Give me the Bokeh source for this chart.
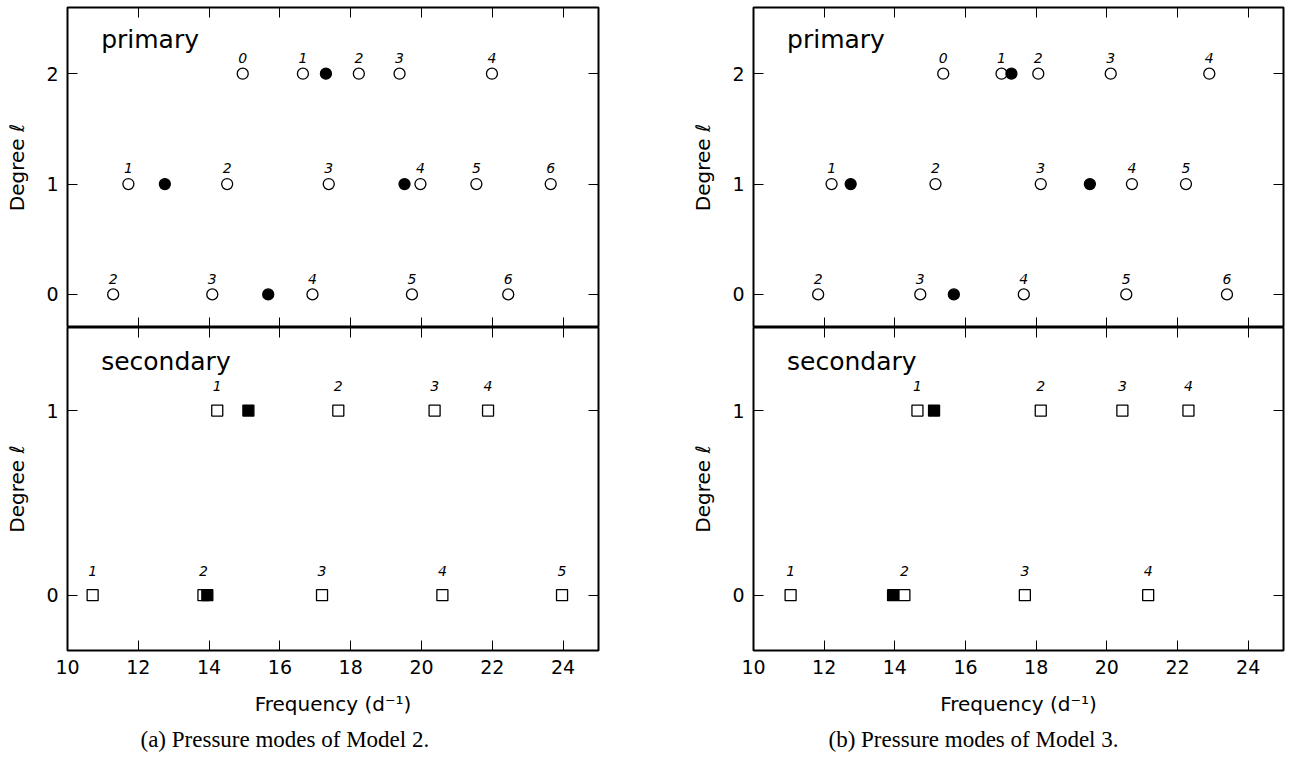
from bokeh.plotting import figure
from bokeh.models import (LinearAxis, FixedTicker, Range1d, Label, Title,
                          CustomLabelingPolicy)
from bokeh.layouts import row, column
from bokeh.embed import file_html
from bokeh.resources import INLINE
from bokeh.core.properties import value

# ---- mode frequencies (d^-1) and radial orders ----
# Model 2, primary
m2_pri_l0 = [11.29, 14.09, 16.92, 19.73, 22.45]
m2_pri_l0_n = ["2", "3", "4", "5", "6"]
m2_pri_l1 = [11.72, 14.51, 17.38, 19.97, 21.55, 23.65]
m2_pri_l1_n = ["1", "2", "3", "4", "5", "6"]
m2_pri_l2 = [14.95, 16.65, 18.23, 19.38, 21.99]
m2_pri_l2_n = ["0", "1", "2", "3", "4"]
# Model 2, secondary
m2_sec_l0 = [10.71, 13.84, 17.19, 20.59, 23.97]
m2_sec_l0_n = ["1", "2", "3", "4", "5"]
m2_sec_l1 = [14.23, 17.65, 20.37, 21.88]
m2_sec_l1_n = ["1", "2", "3", "4"]

# Model 3, primary
m3_pri_l0 = [11.83, 14.72, 17.65, 20.55, 23.40]
m3_pri_l0_n = ["2", "3", "4", "5", "6"]
m3_pri_l1 = [12.21, 15.15, 18.13, 20.71, 22.24]
m3_pri_l1_n = ["1", "2", "3", "4", "5"]
m3_pri_l2 = [15.37, 17.02, 18.06, 20.11, 22.90]
m3_pri_l2_n = ["0", "1", "2", "3", "4"]
# Model 3, secondary
m3_sec_l0 = [11.05, 14.27, 17.68, 21.17]
m3_sec_l0_n = ["1", "2", "3", "4"]
m3_sec_l1 = [14.64, 18.13, 20.44, 22.31]
m3_sec_l1_n = ["1", "2", "3", "4"]

# observed frequencies with their identified degree
obs_pri_freq = [15.67, 12.75, 19.52, 17.30]
obs_pri_deg = [0, 1, 1, 2]
obs_sec_freq = [13.95, 15.11]
obs_sec_deg = [0, 1]

x_ticks = [10, 12, 14, 16, 18, 20, 22, 24]
pri_ticks = [0, 1, 2]
sec_ticks = [0, 1]

FONT = "DejaVu Sans"

# labeling policy that keeps no tick labels (tick marks only)
NO_LABELS = CustomLabelingPolicy(code="""
    for (const i of Array.from(indices)) indices.unset(i)
    return indices
""")


def ticks_only(ax):
    ax.major_label_policy = NO_LABELS
    ax.major_label_text_font_size = "0px"
    ax.major_label_standoff = 0
    ax.major_tick_out = 0
    ax.major_tick_in = 10
    ax.minor_tick_in = 0
    ax.minor_tick_out = 0
    ax.axis_line_color = None
    ax.major_tick_line_color = "black"


def style_labelled(ax):
    ax.axis_label_text_font = FONT
    ax.axis_label_text_font_style = "normal"
    ax.axis_label_text_font_size = "20px"
    ax.axis_label_text_color = "black"
    ax.major_label_text_font = FONT
    ax.major_label_text_font_size = "19px"
    ax.major_label_text_color = "black"
    ax.major_label_standoff = 9
    ax.major_tick_out = 0
    ax.major_tick_in = 10
    ax.minor_tick_in = 0
    ax.minor_tick_out = 0
    ax.axis_line_color = None
    ax.major_tick_line_color = "black"


def make_panel(ylim, yticks, frame_h, border_left, border_right, border_top,
               border_bottom, frame_w, bottom_labels):
    p = figure(x_range=Range1d(10, 25), y_range=Range1d(*ylim),
               frame_width=frame_w, frame_height=frame_h,
               min_border_left=border_left, min_border_right=border_right,
               min_border_top=border_top, min_border_bottom=border_bottom,
               output_backend="svg", toolbar_location=None)
    p.grid.visible = False
    p.outline_line_color = "black"
    p.outline_line_width = 2
    p.background_fill_color = "white"
    p.border_fill_color = "white"

    # left axis: degree labels
    ya = p.yaxis[0]
    ya.ticker = FixedTicker(ticks=yticks)
    ya.axis_label = "Degree \u2113"
    style_labelled(ya)
    ya.axis_label_standoff = 14

    # bottom axis
    xa = p.xaxis[0]
    xa.ticker = FixedTicker(ticks=x_ticks)
    if bottom_labels:
        xa.axis_label = "Frequency (d\u207b\u00b9)"
        style_labelled(xa)
        xa.axis_label_standoff = 15
    else:
        ticks_only(xa)

    top = LinearAxis(ticker=FixedTicker(ticks=x_ticks))
    ticks_only(top)
    p.add_layout(top, "above")
    right = LinearAxis(ticker=FixedTicker(ticks=yticks))
    ticks_only(right)
    p.add_layout(right, "right")
    return p


def add_modes(p, freqs, deg, names, marker, dy):
    ys = [deg] * len(freqs)
    p.scatter(freqs, ys, marker=marker, size=11, fill_color="white",
              line_color="black", line_width=1.3)
    p.text(freqs, [deg + dy] * len(freqs), text=names,
           text_font=value(FONT), text_font_style="italic",
           text_font_size="14px", text_align="center",
           text_baseline="middle", text_color="black")


def add_observed(p, freqs, degs, marker):
    p.scatter(freqs, degs, marker=marker, size=11, fill_color="black",
              line_color="black", line_width=1.3)


def add_tag(p, text, x, y):
    p.add_layout(Label(x=x, y=y, text=text, text_font=FONT,
                       text_font_size="25px", text_color="black",
                       text_baseline="alphabetic"))


def add_caption(p, text, shift):
    p.add_layout(Title(text=text, align="left", offset=shift,
                       text_font="Liberation Serif", text_font_size="23px",
                       text_font_style="normal", text_color="black",
                       standoff=12), "below")


PRI_LIM = (-0.3, 2.6)
SEC_LIM = (-0.3, 1.45)

# ---------------- left column: Model 2 ----------------
l_top = make_panel(PRI_LIM, pri_ticks, 320, 67, 20, 7, 0, 531, False)
add_modes(l_top, m2_pri_l0, 0, m2_pri_l0_n, "circle", 0.142)
add_modes(l_top, m2_pri_l1, 1, m2_pri_l1_n, "circle", 0.142)
add_modes(l_top, m2_pri_l2, 2, m2_pri_l2_n, "circle", 0.142)
add_observed(l_top, obs_pri_freq, obs_pri_deg, "circle")
add_tag(l_top, "primary", 10.95, 2.31)

l_bot = make_panel(SEC_LIM, sec_ticks, 323, 67, 20, 0, 108, 531, True)
add_modes(l_bot, m2_sec_l0, 0, m2_sec_l0_n, "square", 0.131)
add_modes(l_bot, m2_sec_l1, 1, m2_sec_l1_n, "square", 0.131)
add_observed(l_bot, obs_sec_freq, obs_sec_deg, "square")
add_tag(l_bot, "secondary", 10.95, 1.265)
add_caption(l_bot, "(a) Pressure modes of Model 2.", 73)

# ---------------- right column: Model 3 ----------------
r_top = make_panel(PRI_LIM, pri_ticks, 320, 135, 15, 7, 0, 530, False)
add_modes(r_top, m3_pri_l0, 0, m3_pri_l0_n, "circle", 0.142)
add_modes(r_top, m3_pri_l1, 1, m3_pri_l1_n, "circle", 0.142)
add_modes(r_top, m3_pri_l2, 2, m3_pri_l2_n, "circle", 0.142)
add_observed(r_top, obs_pri_freq, obs_pri_deg, "circle")
add_tag(r_top, "primary", 10.95, 2.31)

r_bot = make_panel(SEC_LIM, sec_ticks, 323, 135, 15, 0, 108, 530, True)
add_modes(r_bot, m3_sec_l0, 0, m3_sec_l0_n, "square", 0.131)
add_modes(r_bot, m3_sec_l1, 1, m3_sec_l1_n, "square", 0.131)
add_observed(r_bot, obs_sec_freq, obs_sec_deg, "square")
add_tag(r_bot, "secondary", 10.95, 1.265)
add_caption(r_bot, "(b) Pressure modes of Model 3.", 75)

layout = row(column(l_top, l_bot), column(r_top, r_bot))
open("out.html", "w").write(file_html(layout, INLINE))
